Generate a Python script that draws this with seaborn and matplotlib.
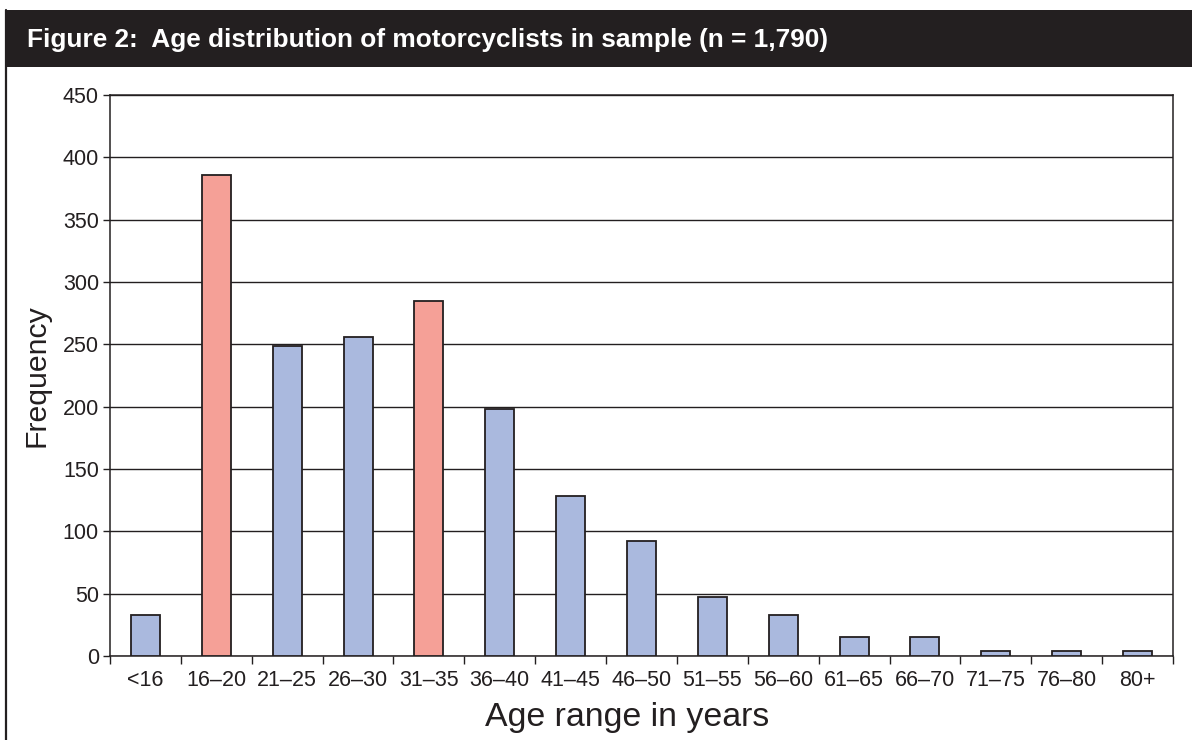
import matplotlib
matplotlib.use("Agg")
import matplotlib.pyplot as plt
import seaborn as sns
import pandas as pd
from matplotlib.patches import Rectangle
from matplotlib.lines import Line2D

categories = ["<16", "16–20", "21–25", "26–30", "31–35", "36–40", "41–45", "46–50",
              "51–55", "56–60", "61–65", "66–70", "71–75", "76–80", "80+"]
tick_labels = ["<16", "16–20", "21–25", "26–30", "31–35", "36–40", "41–45", "46–50",
               "51–55", "56–60", "61–65", "66–70", "71–75", "76–80", "80+"]
frequency = [33, 386, 249, 256, 285, 198, 128, 92, 47, 33, 15, 15, 4, 4, 4]
highlight = ["16–20", "31–35"]
yticks = [0, 50, 100, 150, 200, 250, 300, 350, 400, 450]

title = "Figure 2:  Age distribution of motorcyclists in sample (n = 1,790)"

BLUE = "#AAB9DE"
RED = "#F5A097"
INK = "#231f20"
colors = [RED if c in highlight else BLUE for c in categories]

sns.set_theme(style="white")
plt.rcParams["font.family"] = ["Liberation Sans", "DejaVu Sans"]

fig = plt.figure(figsize=(11.92, 7.40), dpi=100)
W, H = 1192, 740

# header bar
fig.patches.append(Rectangle((5 / W, 1 - 67 / H), 1 - 5 / W, 57 / H, transform=fig.transFigure,
                             facecolor=INK, edgecolor="none", zorder=0))
fig.text(27 / W, 1 - 40 / H, title, color="white", fontsize=18.9, fontweight="bold",
         va="center", ha="left")
fig.lines.append(Line2D([6 / W, 6 / W], [0, 1 - 10 / H], transform=fig.transFigure,
                        color=INK, lw=1.6))

ax = fig.add_axes([110 / W, 1 - 656 / H, (1173 - 110) / W, (656 - 95) / H])

df = pd.DataFrame({"age": categories, "freq": frequency})
sns.barplot(data=df, x="age", y="freq", hue="age", palette=colors, legend=False,
            width=0.41, edgecolor=INK, linewidth=1.3, saturation=1, ax=ax, zorder=3)

ax.set_ylim(0, 450)
ax.set_xlim(-0.5, len(categories) - 0.5)
ax.set_yticks(yticks)
ax.set_yticklabels([str(v) for v in yticks], fontsize=15.5, color=INK)
ax.set_xticks(range(len(categories)))
ax.set_xticklabels(tick_labels, fontsize=15.5, color=INK)
ax.tick_params(axis="x", which="major", length=0, pad=10)
ax.set_xticks([i - 0.5 for i in range(len(categories) + 1)], minor=True)
ax.tick_params(axis="x", which="minor", length=6, width=1, color=INK, direction="out", bottom=True)
ax.tick_params(axis="y", which="major", length=5, width=1, color=INK, direction="out", left=True, pad=3)

ax.yaxis.grid(True, color=INK, linewidth=1)
ax.set_axisbelow(True)
for s in ax.spines.values():
    s.set_visible(True)
    s.set_color(INK)
    s.set_linewidth(1.1)

ax.set_xlabel("Age range in years", fontsize=24.4, color=INK, labelpad=6)
ax.xaxis.set_label_coords((627 - 110) / (1173 - 110), -0.082)
ax.set_ylabel("Frequency", fontsize=21.8, color=INK, labelpad=9)

fig.savefig("out.png", dpi=100)
